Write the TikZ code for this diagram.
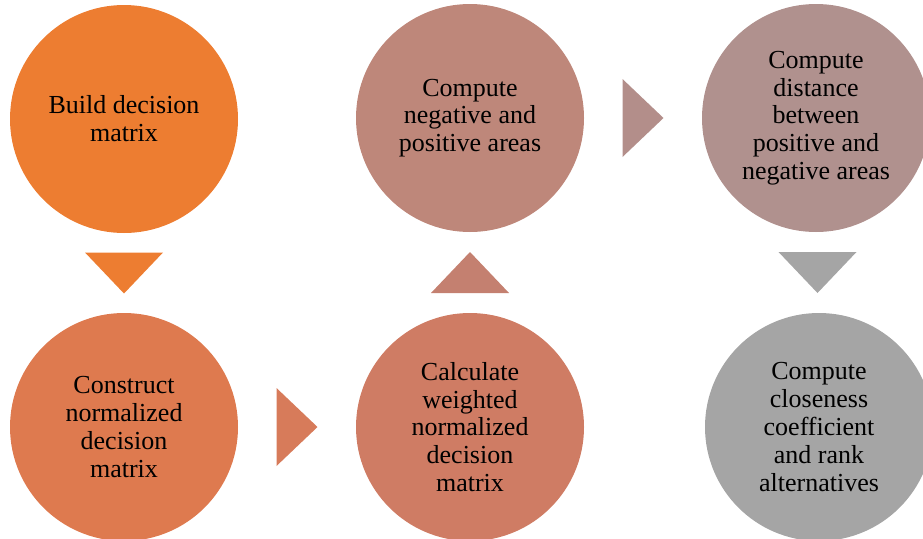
\documentclass[tikz,border=0pt]{standalone}
\usepackage{fontspec}
\setmainfont{Liberation Serif}
\usetikzlibrary{calc}

\definecolor{stepA}{HTML}{ED7D31}
\definecolor{stepB}{HTML}{DE7A4F}
\definecolor{stepC}{HTML}{CF7C64}
\definecolor{stepD}{HTML}{BE877A}
\definecolor{stepE}{HTML}{B0918E}
\definecolor{stepF}{HTML}{A5A5A5}
\definecolor{arrB}{HTML}{D77B5A}
\definecolor{arrC}{HTML}{C48070}
\definecolor{arrD}{HTML}{B38E8A}

\tikzset{
  stepcircle/.style={circle, minimum size=228pt, inner sep=0pt, align=center,
    font=\fontsize{26}{27.8}\selectfont, text=black},
}

\begin{document}
\begin{tikzpicture}[x=1pt, y=-1pt]
  \useasboundingbox (0,0) rectangle (923,538);
  \clip (0,0) rectangle (923,538);

  % process steps
  \node[stepcircle, fill=stepA] (c1) at (124,119) {Build decision\\matrix};
  \node[stepcircle, fill=stepB] (c2) at (124,427) {Construct\\normalized\\decision\\matrix};
  \node[stepcircle, fill=stepC] (c3) at (470,427) {Calculate\\weighted\\normalized\\decision\\matrix};
  \node[stepcircle, fill=stepD] (c4) at (470,118) {Compute\\negative and\\positive areas};
  \node[stepcircle, fill=stepE] (c5) at (816,118) {Compute\\distance\\between\\positive and\\negative areas};
  \node[stepcircle, fill=stepF] (c6) at (819,427) {Compute\\closeness\\coefficient\\and rank\\alternatives};

  % triangular arrows halfway between consecutive steps
  \coordinate (a1) at ($(c1.south)!0.5!(c2.north)$);
  \coordinate (a2) at ($(c2.east)!0.5!(c3.west)$);
  \coordinate (a3) at ($(c3.north)!0.5!(c4.south)$);
  \coordinate (a4) at ($(c4.east)!0.5!(c5.west)$);
  \coordinate (a5) at ($(c5.south)!0.5!(c6.north)$);

  % down
  \fill[stepA] ($(a1)+(-39,-20.5)$) -- ($(a1)+(39,-20.5)$) -- ($(a1)+(0,20.5)$) -- cycle;
  % right
  \fill[arrB] ($(a2)+(-20.5,-39)$) -- ($(a2)+(20.5,0)$) -- ($(a2)+(-20.5,39)$) -- cycle;
  % up
  \fill[arrC] ($(a3)+(-39,20.5)$) -- ($(a3)+(39,20.5)$) -- ($(a3)+(0,-20.5)$) -- cycle;
  % right
  \fill[arrD] ($(a4)+(-20.5,-39)$) -- ($(a4)+(20.5,0)$) -- ($(a4)+(-20.5,39)$) -- cycle;
  % down
  \fill[stepF] ($(a5)+(-39,-20.5)$) -- ($(a5)+(39,-20.5)$) -- ($(a5)+(0,20.5)$) -- cycle;
\end{tikzpicture}
\end{document}
